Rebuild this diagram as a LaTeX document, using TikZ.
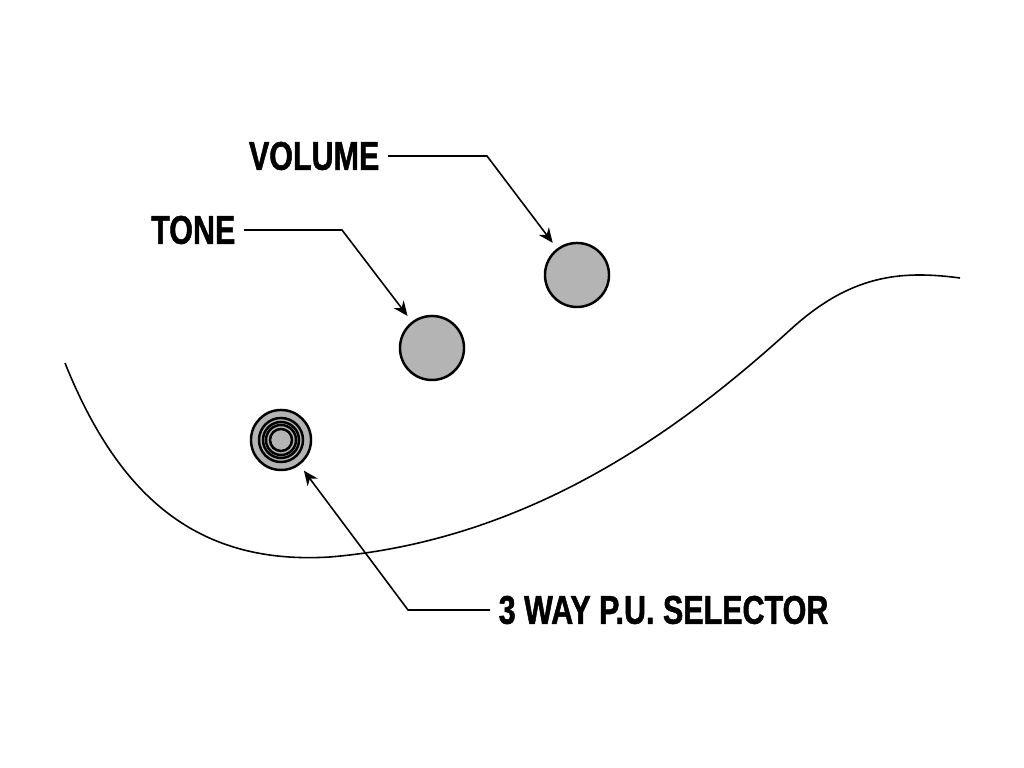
\documentclass[tikz,border=0pt]{standalone}
\usepackage{fontspec}
\setmainfont{Liberation Sans}[FakeStretch=0.76, BoldFeatures={FakeBold=1.2}]
\usepackage{tikz}
\usetikzlibrary{arrows.meta, positioning, calc}
\definecolor{knobgray}{HTML}{B4B4B4}

\begin{document}
\begin{tikzpicture}[
    x=0.01cm, y=-0.01cm,
    every node/.style={font=\fontsize{11.4}{13}\selectfont\bfseries},
    lbl/.style={inner xsep=0.08cm, inner ysep=0pt},
    knob/.style={circle, draw, line width=0.7pt, fill=knobgray, minimum size=0.64cm, inner sep=0pt},
    ring/.style={draw, line width=0.7pt},
    lead/.style={-{Stealth[length=4.2pt, width=3.6pt]}, line width=0.45pt, shorten >=0.07cm},
    body/.style={line width=0.45pt}
]
    \useasboundingbox (0,0) rectangle (1024,768);

    % guitar body edge
    \draw[body] (65,363) .. controls (120,500) and (200,565) .. (330,557)
        .. controls (530,540) and (680,430) .. (790,330)
        .. controls (850,275) and (900,270) .. (960,278);

    % controls
    \node[knob] (volknob) at (577,275) {};
    \node[knob] (toneknob) at (432,348) {};
    \node[knob, minimum size=0.6cm] (selknob) at (281,440) {};
    \foreach \r in {0.22,0.18,0.15,0.11}
        \draw[ring] (selknob.center) circle (\r cm);

    % labels
    \node[lbl, anchor=east] (volume) at (388,156) {VOLUME};
    \node[lbl, anchor=east] (tone) at (244,230) {TONE};
    \node[lbl, anchor=west] (selector) at (490,610) {3 WAY P.U. SELECTOR};

    \coordinate (vbend) at (487,156);
    \coordinate (tbend) at (342,230);
    \coordinate (sbend) at (408,610);

    \draw[lead] (volume.east) -- (vbend) -- (volknob);
    \draw[lead] (tone.east) -- (tbend) -- (toneknob);
    \draw[lead] (selector.west) -- (sbend) -- (selknob);
\end{tikzpicture}
\end{document}
